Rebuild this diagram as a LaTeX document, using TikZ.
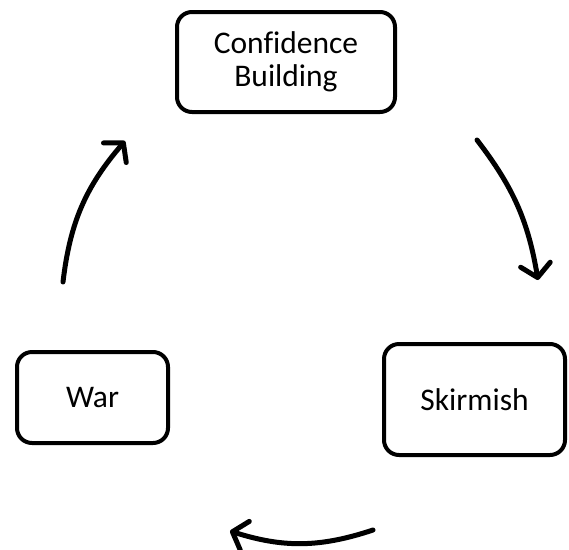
\documentclass[tikz,border=0pt]{standalone}
\usepackage{fontspec}
\setmainfont[Ligatures={NoCommon}]{Carlito}
\usetikzlibrary{arrows.meta}
\begin{document}
\begin{tikzpicture}[x=1pt,y=-1pt,
  stage/.style={draw=black,line width=4pt,rounded corners=15pt,align=center,
    font=\fontsize{31.5}{32.5}\selectfont,inner sep=0pt},
  cyclearrow/.style={line width=5pt,line cap=round,
    -{Straight Barb[length=13pt,width=30pt,round]}}]
  \useasboundingbox (0,0) rectangle (569,549);
  % the three stages of the cycle
  \node[stage,minimum width=218pt,minimum height=100pt] (conf) at (286,62) {Confidence\\Building};
  \node[stage,minimum width=181pt,minimum height=111pt] (skir) at (474.5,399.5) {Skirmish};
  \node[stage,minimum width=151pt,minimum height=91pt] (war) at (92.5,397.5) {War};
  % free ends of the curved arrows
  \coordinate (a1s) at (63,282);  \coordinate (a1e) at (125,141);
  \coordinate (a2s) at (477,140); \coordinate (a2e) at (538,280);
  \coordinate (a3s) at (373,530); \coordinate (a3e) at (230,531);
  \draw[cyclearrow] (a1s) to[bend left=17] (a1e);
  \draw[cyclearrow] (a2s) to[bend left=14] (a2e);
  \draw[cyclearrow] (a3s) to[bend left=18] (a3e);
\end{tikzpicture}
\end{document}
